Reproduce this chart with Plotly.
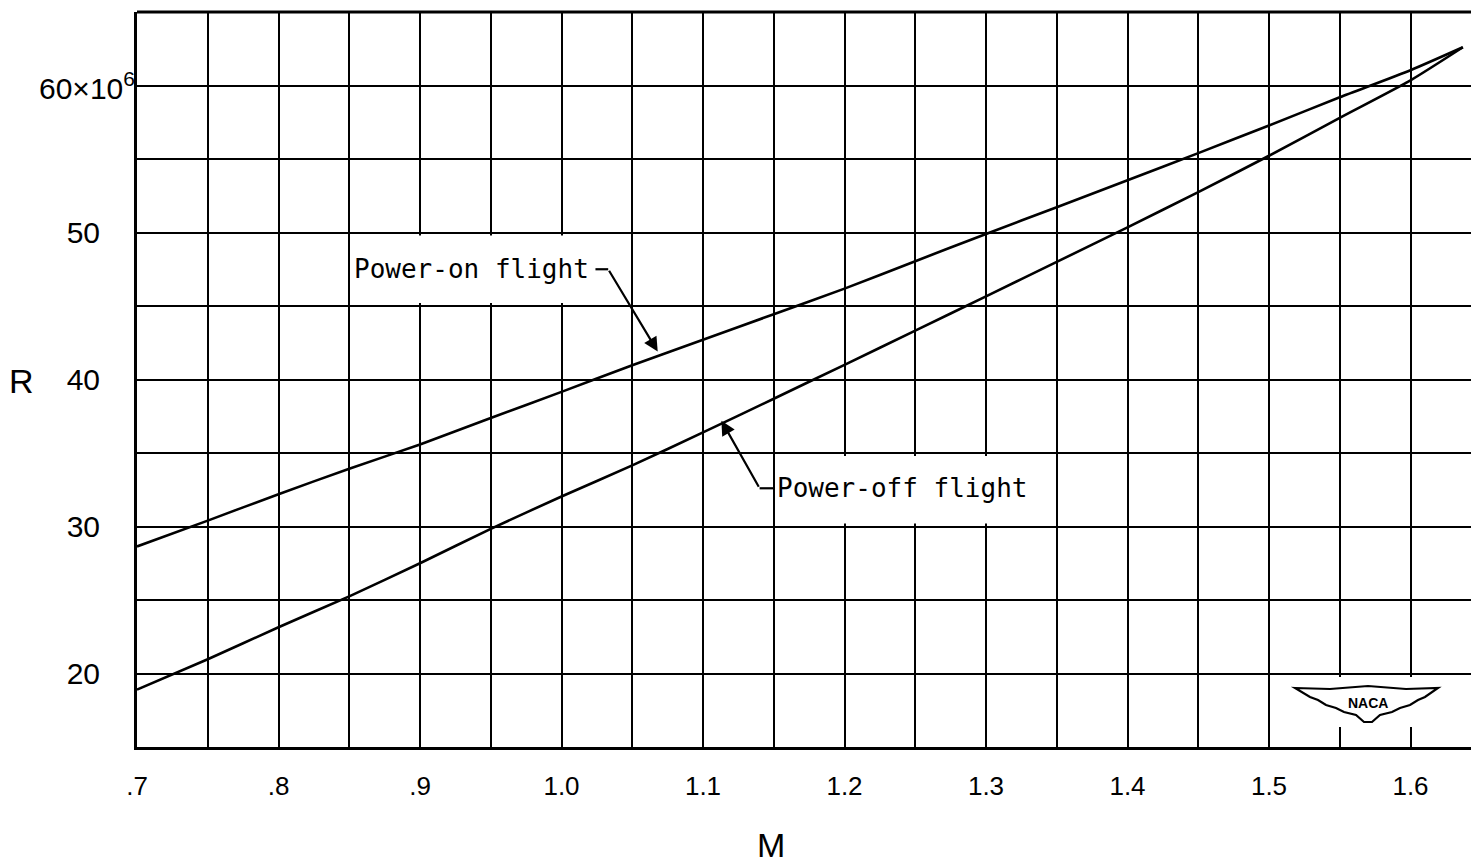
import plotly.graph_objects as go

# ---- data ----
mach = [0.70, 0.75, 0.80, 0.85, 0.90, 0.95, 1.00, 1.05, 1.10, 1.15, 1.20,
        1.25, 1.30, 1.35, 1.40, 1.45, 1.50, 1.55, 1.60, 1.637]
r_power_on = [28.64, 30.40, 32.20, 33.93, 35.58, 37.38, 39.16, 40.97, 42.70,
              44.44, 46.18, 48.05, 49.90, 51.72, 53.55, 55.40, 57.28, 59.20,
              61.04, 62.60]
r_power_off = [18.90, 20.97, 23.15, 25.25, 27.50, 29.84, 32.04, 34.16, 36.40,
               38.69, 41.00, 43.32, 45.66, 48.00, 50.35, 52.75, 55.22, 57.80,
               60.35, 62.60]

x_tickvals = [0.7, 0.8, 0.9, 1.0, 1.1, 1.2, 1.3, 1.4, 1.5, 1.6]
x_ticktext = [".7", ".8", ".9", "1.0", "1.1", "1.2", "1.3", "1.4", "1.5", "1.6"]
y_tickvals = [20, 30, 40, 50, 60]
y_ticktext = ["20", "30", "40", "50", ""]

# page body has an 8px margin; compensate so the plot lands where the reference has it
OFF = 8
W, H = 1479 - OFF, 867 - OFF
L, R_, T, B = 137 - OFF, 0, 12 - OFF, 867 - 747
PW, PH = W - L - R_, H - T - B


def px(xp):
    """window pixel x -> paper coordinate"""
    return (xp - OFF - L) / PW


def py(yp):
    """window pixel y -> paper coordinate"""
    return (H - B - (yp - OFF)) / PH


fig = go.Figure()
fig.add_trace(go.Scatter(x=mach, y=r_power_on, mode="lines",
                         line=dict(color="black", width=2.6, shape="spline", smoothing=0.6),
                         name="Power-on flight", showlegend=False))
fig.add_trace(go.Scatter(x=mach, y=r_power_off, mode="lines",
                         line=dict(color="black", width=2.6, shape="spline", smoothing=0.6),
                         name="Power-off flight", showlegend=False))

ann_font = dict(family="DejaVu Sans Mono", size=26, color="black")
tick_font_y = dict(family="Liberation Sans", size=30, color="black")
tick_font_x = dict(family="Liberation Sans", size=26, color="black")

annotations = [
    dict(x=0.852, y=47.5, xref="x", yref="y", text="Power-on flight",
         showarrow=False, xanchor="left", yanchor="middle", font=ann_font),
    dict(x=1.151, y=32.6, xref="x", yref="y", text="Power-off flight",
         showarrow=False, xanchor="left", yanchor="middle", font=ann_font),
    dict(x=1.068, y=41.9, ax=1.033, ay=47.5, xref="x", yref="y",
         axref="x", ayref="y", text="", showarrow=True, arrowhead=2,
         arrowsize=1.3, arrowwidth=2.2, arrowcolor="black"),
    dict(x=1.113, y=37.2, ax=1.140, ay=32.6, xref="x", yref="y",
         axref="x", ayref="y", text="", showarrow=True, arrowhead=2,
         arrowsize=1.3, arrowwidth=2.2, arrowcolor="black"),
    dict(x=0, y=60, xref="paper", yref="y", text="60×10<sup>6</sup>",
         showarrow=False, xanchor="right", yanchor="middle", xshift=0,
         font=dict(family="Liberation Sans", size=30, color="black")),
    dict(x=px(22), y=py(381), xref="paper", yref="paper", text="R",
         showarrow=False, xanchor="center", yanchor="middle",
         font=dict(family="Liberation Sans", size=34, color="black")),
    dict(x=px(771), y=py(845), xref="paper", yref="paper", text="M",
         showarrow=False, xanchor="center", yanchor="middle",
         font=dict(family="Liberation Sans", size=34, color="black")),
    dict(x=px(1368), y=py(703), xref="paper", yref="paper", text="<b>NACA</b>",
         showarrow=False, xanchor="center", yanchor="middle",
         font=dict(family="Liberation Sans", size=14, color="black")),
]

shapes = [
    dict(type="line", xref="paper", yref="paper", x0=0, x1=1, y0=1, y1=1,
         line=dict(color="black", width=3)),
    # white label boxes (grid erased behind the lettering)
    dict(type="rect", xref="x", yref="y", x0=0.8515, x1=1.0485, y0=45.2, y1=49.8,
         fillcolor="white", line=dict(width=0)),
    dict(type="rect", xref="x", yref="y", x0=1.1515, x1=1.3485, y0=30.2, y1=34.8,
         fillcolor="white", line=dict(width=0)),
    dict(type="line", xref="x", yref="y", x0=1.024, x1=1.033, y0=47.5, y1=47.5,
         line=dict(color="black", width=2.2)),
    dict(type="line", xref="x", yref="y", x0=1.140, x1=1.150, y0=32.6, y1=32.6,
         line=dict(color="black", width=2.2)),
    dict(type="rect", xref="paper", yref="paper", x0=px(1290), x1=px(1445),
         y0=py(727), y1=py(677), fillcolor="white", line=dict(width=0)),
]

wing_pts = [(1295, 688), (1330, 689), (1368, 686), (1406, 689), (1438, 688),
            (1425, 697), (1418, 700), (1410, 705), (1400, 708), (1392, 712),
            (1380, 715), (1372, 722), (1364, 722), (1356, 715), (1344, 712),
            (1336, 708), (1326, 705), (1318, 700), (1310, 697)]
path = "M " + " L ".join(f"{px(a):.5f},{py(b):.5f}" for a, b in wing_pts) + " Z"
shapes.append(dict(type="path", xref="paper", yref="paper", path=path,
                   fillcolor="white", line=dict(color="black", width=2.2)))

fig.update_layout(
    width=W, height=H,
    margin=dict(l=L, r=R_, t=T, b=B),
    paper_bgcolor="white", plot_bgcolor="white",
    annotations=annotations, shapes=shapes,
    xaxis=dict(range=[0.7, 0.7 + PW / 1415.0], tick0=0.7, dtick=0.05,
               showgrid=True, gridcolor="black", gridwidth=2,
               zeroline=False, showline=True, linecolor="black", linewidth=3,
               tickmode="array", tickvals=x_tickvals, ticktext=x_ticktext,
               tickfont=tick_font_x, ticks="", ticklabelstandoff=14),
    yaxis=dict(range=[15, 65],
               showgrid=True, gridcolor="black", gridwidth=2,
               zeroline=False, showline=True, linecolor="black", linewidth=3,
               tickmode="array", tickvals=y_tickvals, ticktext=y_ticktext,
               tickfont=tick_font_y, ticks="", ticklabelstandoff=28),
)

fig.update_xaxes(minor=dict(tick0=0.7, dtick=0.05, showgrid=True,
                            gridcolor="black", gridwidth=2))
fig.update_yaxes(minor=dict(tick0=15, dtick=5, showgrid=True,
                            gridcolor="black", gridwidth=2))

fig.write_html("out.html")
